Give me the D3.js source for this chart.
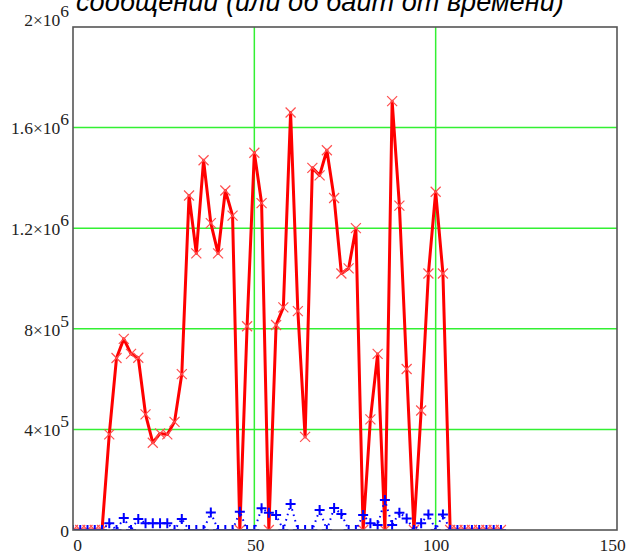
<!DOCTYPE html>
<html>
<head>
<meta charset="utf-8">
<script src="https://cdn.jsdelivr.net/npm/d3@7"></script>
<style>
  body{margin:0;background:#fff;}
  svg{display:block;}
</style>
</head>
<body>
<div id="chart"></div>
<script>
// data
var titleText = "сообщений (или об байт от времени)"
var xValues = [0,2,4,6,8,10,12,14,16,18,20,22,24,26,28,30,32,34,36,38,40,42,44,46,48,50,52,54,56,58,60,62,64,66,68,70,72,74,76,78,80,82,84,86,88,90,92,94,96,98,100,102,104,106,108,110,112,114,116,118]
var redValues = [0,0,0,0,0,380000,684000,760000,700000,685000,460000,347000,384000,380000,430000,620000,1330000,1100000,1470000,1220000,1100000,1350000,1250000,0,810000,1500000,1300000,0,815000,885000,1660000,870000,370000,1440000,1410000,1510000,1320000,1020000,1040000,1200000,0,440000,700000,0,1705000,1290000,640000,0,475000,1020000,1345000,1020000,0,0,0,0,0,0,0,0]
var blueValues = [0,0,0,0,0,27000,0,48000,0,44000,27000,27000,27000,27000,0,44000,0,0,0,70000,0,0,0,73000,0,0,86000,69000,60000,0,103000,0,0,0,80000,0,87000,64000,0,0,60000,27000,20000,119000,20000,69000,46000,0,27000,62000,0,62000,0,0,0,0,0,0,0,0]
var xTicks = [0,50,100,150]
var yTicks = [0,400000,800000,1200000,1600000,2000000]
var yMant = ["0","4×10","8×10","1.2×10","1.6×10","2×10"]
var yExp = ["","5","5","6","6","6"]

initChart()
function initChart(){
  var width = 638
  var height = 556
  var margin = {top:27, bottom:26, left:73, right:21}

  var svg = d3.select("#chart").append("svg")
      .attr("width", width)
      .attr("height", height)

  var x = d3.scaleLinear().domain([0,150]).range([margin.left, width-margin.right])
  var y = d3.scaleLinear().domain([0,2000000]).range([height-margin.bottom, margin.top])

  var pts = xValues.map(function(d,i){ return {x:d, r:redValues[i], b:blueValues[i]} })

  // title, only its lower half is inside the picture
  var title = svg.append("text")
    .text(titleText)
    .attr("x",76)
    .attr("y",11)
    .attr("font-family","Liberation Sans, Arial, sans-serif")
    .attr("font-style","italic")
    .attr("font-size",22)
    .attr("fill","#000")
  var tl = title.node().getComputedTextLength()
  title.attr("font-size",22*488/tl)

  svg.append("defs").append("clipPath").attr("id","plotclip")
    .append("rect")
    .attr("x",x(0)).attr("y",y(2000000))
    .attr("width",x(150)-x(0)).attr("height",y(0)-y(2000000))

  // grid
  svg.append("g").selectAll("line")
    .data(yTicks.slice(1,-1))
    .enter().append("line")
    .attr("x1",x(0)).attr("x2",x(150))
    .attr("y1",function(d){return y(d)}).attr("y2",function(d){return y(d)})
    .attr("stroke","#33f033").attr("stroke-width",1.5)

  svg.append("g").selectAll("line")
    .data(xTicks.slice(1,-1))
    .enter().append("line")
    .attr("y1",y(0)).attr("y2",y(2000000))
    .attr("x1",function(d){return x(d)}).attr("x2",function(d){return x(d)})
    .attr("stroke","#33f033").attr("stroke-width",1.5)

  var plot = svg.append("g").attr("clip-path","url(#plotclip)")

  // red series
  plot.append("path")
    .datum(pts)
    .attr("fill","none")
    .attr("stroke","#ff0000")
    .attr("stroke-width",3)
    .attr("stroke-linejoin","round")
    .attr("d",d3.line().x(function(d){return x(d.x)}).y(function(d){return y(d.r)}))

  plot.append("g").selectAll("path")
    .data(pts)
    .enter().append("path")
    .attr("transform",function(d){return "translate("+x(d.x)+","+y(d.r)+")"})
    .attr("d","M-5,-5L5,5M-5,5L5,-5")
    .attr("stroke","#ff5050")
    .attr("stroke-width",1.2)
    .attr("fill","none")

  // blue series
  plot.append("path")
    .datum(pts)
    .attr("fill","none")
    .attr("stroke","#0000ff")
    .attr("stroke-width",2)
    .attr("stroke-dasharray","1.6,4")
    .attr("d",d3.line().x(function(d){return x(d.x)}).y(function(d){return y(d.b)}))

  plot.append("g").selectAll("path")
    .data(pts)
    .enter().append("path")
    .attr("transform",function(d){return "translate("+x(d.x)+","+y(d.b)+")"})
    .attr("d","M-5,0H5M0,-5V5")
    .attr("stroke","#0000ff")
    .attr("stroke-width",2)
    .attr("fill","none")

  // frame
  svg.append("rect")
    .attr("x",x(0)).attr("y",y(2000000))
    .attr("width",x(150)-x(0)).attr("height",y(0)-y(2000000))
    .attr("fill","none").attr("stroke","#555").attr("stroke-width",1.6)

  // axes
  var yAxis = svg.append("g")
    .attr("transform","translate("+x(0)+",0)")
    .call(d3.axisLeft(y).tickValues(yTicks).tickSize(0).tickPadding(4).tickFormat(""))
  yAxis.select(".domain").remove()
  yAxis.selectAll(".tick text")
    .attr("font-family","Liberation Serif, Times New Roman, serif")
    .attr("font-size",17.5)
    .attr("fill","#222")
    .attr("dy","0.36em")
    .each(function(d,i){
      var t = d3.select(this)
      t.append("tspan").text(yMant[i])
      if(yExp[i]) t.append("tspan").attr("dy",-9).text(yExp[i])
      if(i==yTicks.length-1) t.attr("y",-8)
    })

  var xAxis = svg.append("g")
    .attr("transform","translate(0,"+y(0)+")")
    .call(d3.axisBottom(x).tickValues(xTicks).tickSize(0).tickPadding(9).tickFormat(d3.format("d")))
  xAxis.select(".domain").remove()
  xAxis.selectAll(".tick text")
    .attr("font-family","Liberation Serif, Times New Roman, serif")
    .attr("font-size",17.5)
    .attr("fill","#222")
    .attr("dx",function(d,i){ return [4,1,0,-5][i] })
}
</script>
</body>
</html>
